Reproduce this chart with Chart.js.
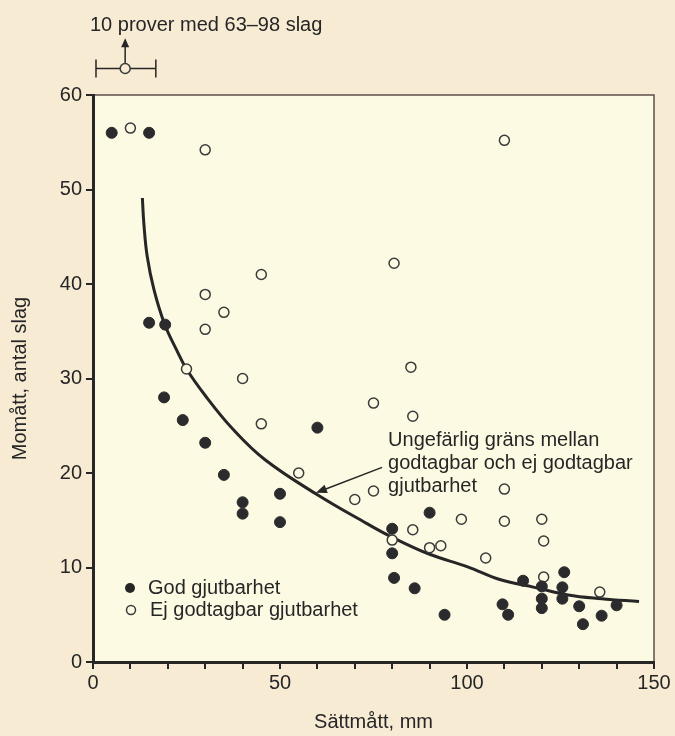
<!DOCTYPE html>
<html>
<head>
<meta charset="utf-8">
<script src="https://cdn.jsdelivr.net/npm/chart.js@4/dist/chart.umd.min.js"></script>
<style>
  html, body { margin: 0; padding: 0; background: #f7ebd4; }
  #wrap { width: 675px; height: 736px; }
</style>
</head>
<body>
<div id="wrap"><canvas id="castChart" width="675" height="736"></canvas></div>
<script>
// God gjutbarhet (filled)
const goodX = [5, 15, 15, 19.3, 19, 24, 30, 35, 40, 40, 50, 50, 60, 80, 80, 80.5, 86, 90, 94, 109.5, 111, 115, 120, 120, 120, 126, 125.5, 125.5, 130, 131, 136, 140];
const goodY = [56, 56, 35.9, 35.7, 28, 25.6, 23.2, 19.8, 16.9, 15.7, 17.8, 14.8, 24.8, 14.1, 11.5, 8.9, 7.8, 15.8, 5.0, 6.1, 5.0, 8.6, 8.0, 6.7, 5.7, 9.5, 7.9, 6.7, 5.9, 4.0, 4.9, 6.0];

// Ej godtagbar gjutbarhet (open)
const poorX = [10, 30, 110, 45, 30, 35, 30, 80.5, 85, 25, 40, 85.5, 75, 45, 55, 70, 75, 110, 80, 85.5, 90, 93, 98.5, 110, 120, 120.5, 105, 120.5, 135.5];
const poorY = [56.5, 54.2, 55.2, 41, 38.9, 37, 35.2, 42.2, 31.2, 31, 30, 26, 27.4, 25.2, 20, 17.2, 18.1, 18.3, 12.9, 14, 12.1, 12.3, 15.1, 14.9, 15.1, 12.8, 11, 9, 7.4];

// approximate boundary curve
const boundX = [13.2, 13.6, 14.5, 16.3, 19.1, 22.5, 25, 30, 37.5, 46, 60, 73, 80, 90, 100, 109, 118, 127, 136, 146];
const boundY = [49.1, 46.4, 42.9, 39.4, 35.8, 32.9, 31, 28.2, 24.6, 21.4, 17.7, 14.7, 13.2, 11.4, 10.1, 8.7, 7.9, 7.1, 6.7, 6.4];

// the off-scale group: 10 samples with 63-98 blows
const outlierX = 8.6, outlierY = 62.8, outlierXMin = 0.8, outlierXMax = 16.8, outlierArrowTop = 66;

const xTicks = [0, 50, 100, 150];
const yTicks = [0, 10, 20, 30, 40, 50, 60];

const noteLines = ['Ungefärlig gräns mellan', 'godtagbar och ej godtagbar', 'gjutbarhet'];
const noteAt = [78.9, 23.4];
const noteArrowFrom = [77.3, 20.6];
const noteArrowTo = [59.6, 17.9];

const FONT = '"Liberation Sans", Arial, sans-serif';
const INK = '#262626';
const PLOT_BG = '#fdfae3';
const PAGE_BG = '#f7ebd4';

const pts = (xs, ys) => xs.map((x, i) => ({ x: x, y: ys[i] }));

function arrowHead(ctx, x1, y1, x2, y2, len, wid) {
  const a = Math.atan2(y2 - y1, x2 - x1);
  ctx.beginPath();
  ctx.moveTo(x2, y2);
  ctx.lineTo(x2 - len * Math.cos(a) + wid * Math.sin(a), y2 - len * Math.sin(a) - wid * Math.cos(a));
  ctx.lineTo(x2 - len * Math.cos(a) - wid * Math.sin(a), y2 - len * Math.sin(a) + wid * Math.cos(a));
  ctx.closePath();
  ctx.fill();
}

const decor = {
  id: 'decor',
  beforeDraw(chart) {
    const { ctx, chartArea: a } = chart;
    ctx.save();
    ctx.fillStyle = PLOT_BG;
    ctx.fillRect(a.left, a.top, a.right - a.left, a.bottom - a.top);
    ctx.strokeStyle = '#5c5048';
    ctx.lineWidth = 1.5;
    ctx.beginPath();
    ctx.moveTo(a.left, a.top);
    ctx.lineTo(a.right, a.top);
    ctx.lineTo(a.right, a.bottom);
    ctx.stroke();
    ctx.restore();
  },
  afterDatasetsDraw(chart) {
    const { ctx, chartArea: a, scales: { x, y } } = chart;
    ctx.save();
    ctx.fillStyle = INK;
    ctx.strokeStyle = INK;
    ctx.font = '20px ' + FONT;
    ctx.textBaseline = 'middle';
    ctx.textAlign = 'left';

    // off-scale group above the plot: range bar, open point, arrow and label
    const xs = x.getPixelForValue(outlierXMin), xe = x.getPixelForValue(outlierXMax);
    const px = x.getPixelForValue(outlierX), py = y.getPixelForValue(outlierY);
    const top = y.getPixelForValue(outlierArrowTop);
    ctx.lineWidth = 1.5;
    ctx.beginPath();
    ctx.moveTo(xs, py); ctx.lineTo(xe, py);
    ctx.moveTo(xs, py - 9); ctx.lineTo(xs, py + 9);
    ctx.moveTo(xe, py - 9); ctx.lineTo(xe, py + 9);
    ctx.moveTo(px, py); ctx.lineTo(px, top + 6);
    ctx.stroke();
    arrowHead(ctx, px, py, px, top, 9, 4);
    ctx.beginPath();
    ctx.arc(px, py, 5, 0, Math.PI * 2);
    ctx.fillStyle = PAGE_BG;
    ctx.fill();
    ctx.strokeStyle = '#3a3a3a';
    ctx.stroke();
    ctx.fillStyle = INK;
    ctx.strokeStyle = INK;
    ctx.fillText('10 prover med 63\u201398 slag', xs - 6, top - 13);

    // note on the boundary curve
    const tx = x.getPixelForValue(noteAt[0]), ty = y.getPixelForValue(noteAt[1]);
    noteLines.forEach((t, i) => ctx.fillText(t, tx, ty + i * 23));
    const fx = x.getPixelForValue(noteArrowFrom[0]), fy = y.getPixelForValue(noteArrowFrom[1]);
    const ex = x.getPixelForValue(noteArrowTo[0]), ey = y.getPixelForValue(noteArrowTo[1]);
    ctx.beginPath();
    ctx.moveTo(fx, fy);
    ctx.lineTo(ex + (fx - ex) * 0.12, ey + (fy - ey) * 0.12);
    ctx.stroke();
    arrowHead(ctx, fx, fy, ex, ey, 11, 4.5);

    // legend in the lower left of the plot
    const lx = a.left + 37, ly = a.bottom - 74;
    ctx.beginPath();
    ctx.arc(lx, ly, 5, 0, Math.PI * 2);
    ctx.fill();
    ctx.fillText('God gjutbarhet', lx + 18, ly);
    ctx.beginPath();
    ctx.arc(lx + 1, ly + 22, 4.5, 0, Math.PI * 2);
    ctx.fillStyle = PLOT_BG;
    ctx.fill();
    ctx.strokeStyle = '#3a3a3a';
    ctx.stroke();
    ctx.fillStyle = INK;
    ctx.fillText('Ej godtagbar gjutbarhet', lx + 20, ly + 22);
    ctx.restore();
  }
};

new Chart(document.getElementById('castChart'), {
  type: 'scatter',
  data: {
    datasets: [
      {
        label: 'God gjutbarhet',
        data: pts(goodX, goodY),
        pointRadius: 5.5,
        pointBackgroundColor: '#2b2b2e',
        pointBorderColor: '#2b2b2e',
        pointBorderWidth: 1,
        order: 1
      },
      {
        label: 'Ej godtagbar gjutbarhet',
        data: pts(poorX, poorY),
        pointRadius: 5,
        pointBackgroundColor: PLOT_BG,
        pointBorderColor: '#3a3a3a',
        pointBorderWidth: 1.5,
        order: 2
      },
      {
        label: 'Gräns',
        data: pts(boundX, boundY),
        showLine: true,
        borderColor: INK,
        borderWidth: 3,
        pointRadius: 0,
        tension: 0.4,
        order: 3
      }
    ]
  },
  options: {
    responsive: false,
    animation: false,
    layout: { padding: { left: 0, top: 95, right: 21, bottom: 0 } },
    plugins: { legend: { display: false }, tooltip: { enabled: false } },
    scales: {
      x: {
        type: 'linear',
        min: 0, max: 150,
        afterFit: s => { s.height = 74; },
        ticks: {
          stepSize: 10,
          autoSkip: false,
          maxRotation: 0,
          padding: 2,
          color: INK,
          font: { family: FONT, size: 20 },
          callback: v => xTicks.includes(v) ? String(v) : ''
        },
        grid: { drawOnChartArea: false, drawTicks: true, tickLength: 7, color: INK, lineWidth: 2 },
        border: { display: true, color: INK, width: 3 },
        title: {
          display: true,
          text: 'Sättmått, mm',
          color: INK,
          font: { family: FONT, size: 20 },
          padding: { top: 0, bottom: 2 }
        }
      },
      y: {
        type: 'linear',
        min: 0, max: 60,
        afterFit: s => { s.width = 93; },
        ticks: {
          stepSize: 10,
          padding: 4,
          color: INK,
          font: { family: FONT, size: 20 },
          callback: v => yTicks.includes(v) ? String(v) : ''
        },
        grid: { drawOnChartArea: false, drawTicks: true, tickLength: 7, color: INK, lineWidth: 2 },
        border: { display: true, color: INK, width: 3 },
        title: {
          display: true,
          text: 'Momått, antal slag',
          color: INK,
          font: { family: FONT, size: 20 },
          padding: { top: 8, bottom: 0 }
        }
      }
    }
  },
  plugins: [decor]
});
</script>
</body>
</html>
